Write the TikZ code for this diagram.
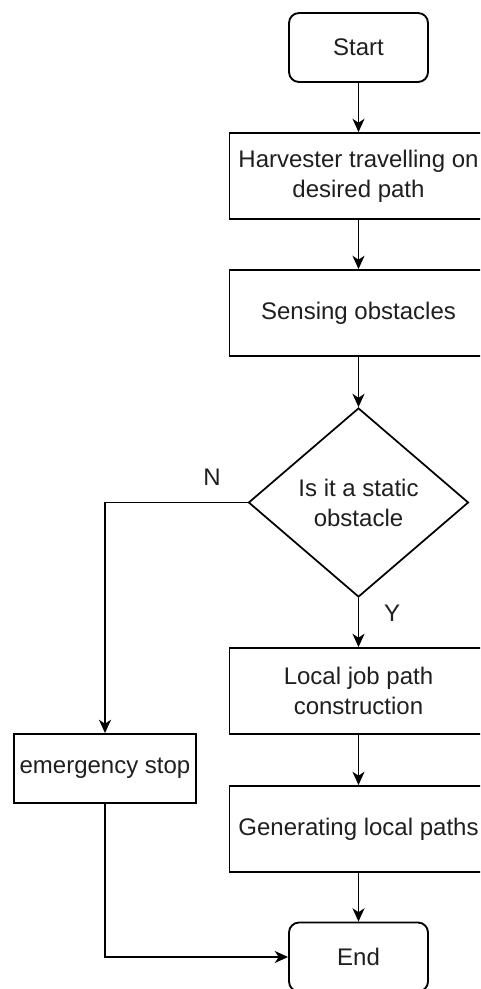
\documentclass[tikz,border=0pt]{standalone}
\usepackage{fontspec}
\setmainfont{Liberation Sans}
\usetikzlibrary{shapes.geometric,arrows.meta}
\begin{document}
\begin{tikzpicture}[x=0.75pt,y=-0.75pt,
  every node/.style={font=\fontsize{18}{22.5}\selectfont, text=black!88},
  terminal/.style={draw, line width=1.4pt, rounded corners=7.5pt, minimum width=104.25pt, minimum height=51.75pt, inner sep=1pt},
  procbox/.style={draw, line width=1.4pt, minimum width=193.5pt, minimum height=64.5pt, inner sep=1pt, align=center},
  smallbox/.style={draw, line width=1.4pt, minimum width=136.5pt, minimum height=51.75pt, inner sep=1pt},
  decision/.style={draw, line width=1.3pt, diamond, minimum width=165pt, minimum height=141.75pt, inner sep=0pt},
  flow/.style={line width=1.4pt, -{Stealth[length=10pt,width=9pt,inset=3pt]}},
  lbl/.style={inner sep=0pt}
]
\useasboundingbox (0,0) rectangle (480,989);
\clip (0,0) rectangle (480,989);
\fill[white] (0,0) rectangle (480,989);

\node[terminal] (start) at (358.5,47.5) {Start};
\node[procbox] (harv) at (358.5,176) {Harvester travelling on\\desired path};
\node[procbox] (sense) at (358.5,313) {Sensing obstacles};
\node[decision] (dec) at (358.5,502.5) {};
\node[align=center, inner sep=0pt] (dectext) at (358.5,503) {Is it a static\\obstacle};
\node[procbox] (local) at (358.5,691) {Local job path\\construction};
\node[procbox] (gen) at (358.5,829) {Generating local paths};
\node[terminal] (end) at (358.5,957) {End};
\node[smallbox] (emerg) at (105,768.5) {emergency stop};

\coordinate (nturn) at (105,502.5);
\coordinate (eturn) at (105,957);

\draw[flow] (start.south) -- (start.south |- harv.north);
\draw[flow] (harv.south) -- (harv.south |- sense.north);
\draw[flow] (sense.south) -- (dec.north);
\draw[flow] (dec.south) -- (dec.south |- local.north);
\draw[flow] (local.south) -- (local.south |- gen.north);
\draw[flow] (gen.south) -- (gen.south |- end.north);
\draw[flow] (dec.west) -- (nturn) -- (emerg.north);
\draw[flow] (emerg.south) -- (eturn) -- (end.west);

\node[lbl] (nlabel) at (212,477) {N};
\node[lbl] (ylabel) at (392,613) {Y};
\end{tikzpicture}
\end{document}
